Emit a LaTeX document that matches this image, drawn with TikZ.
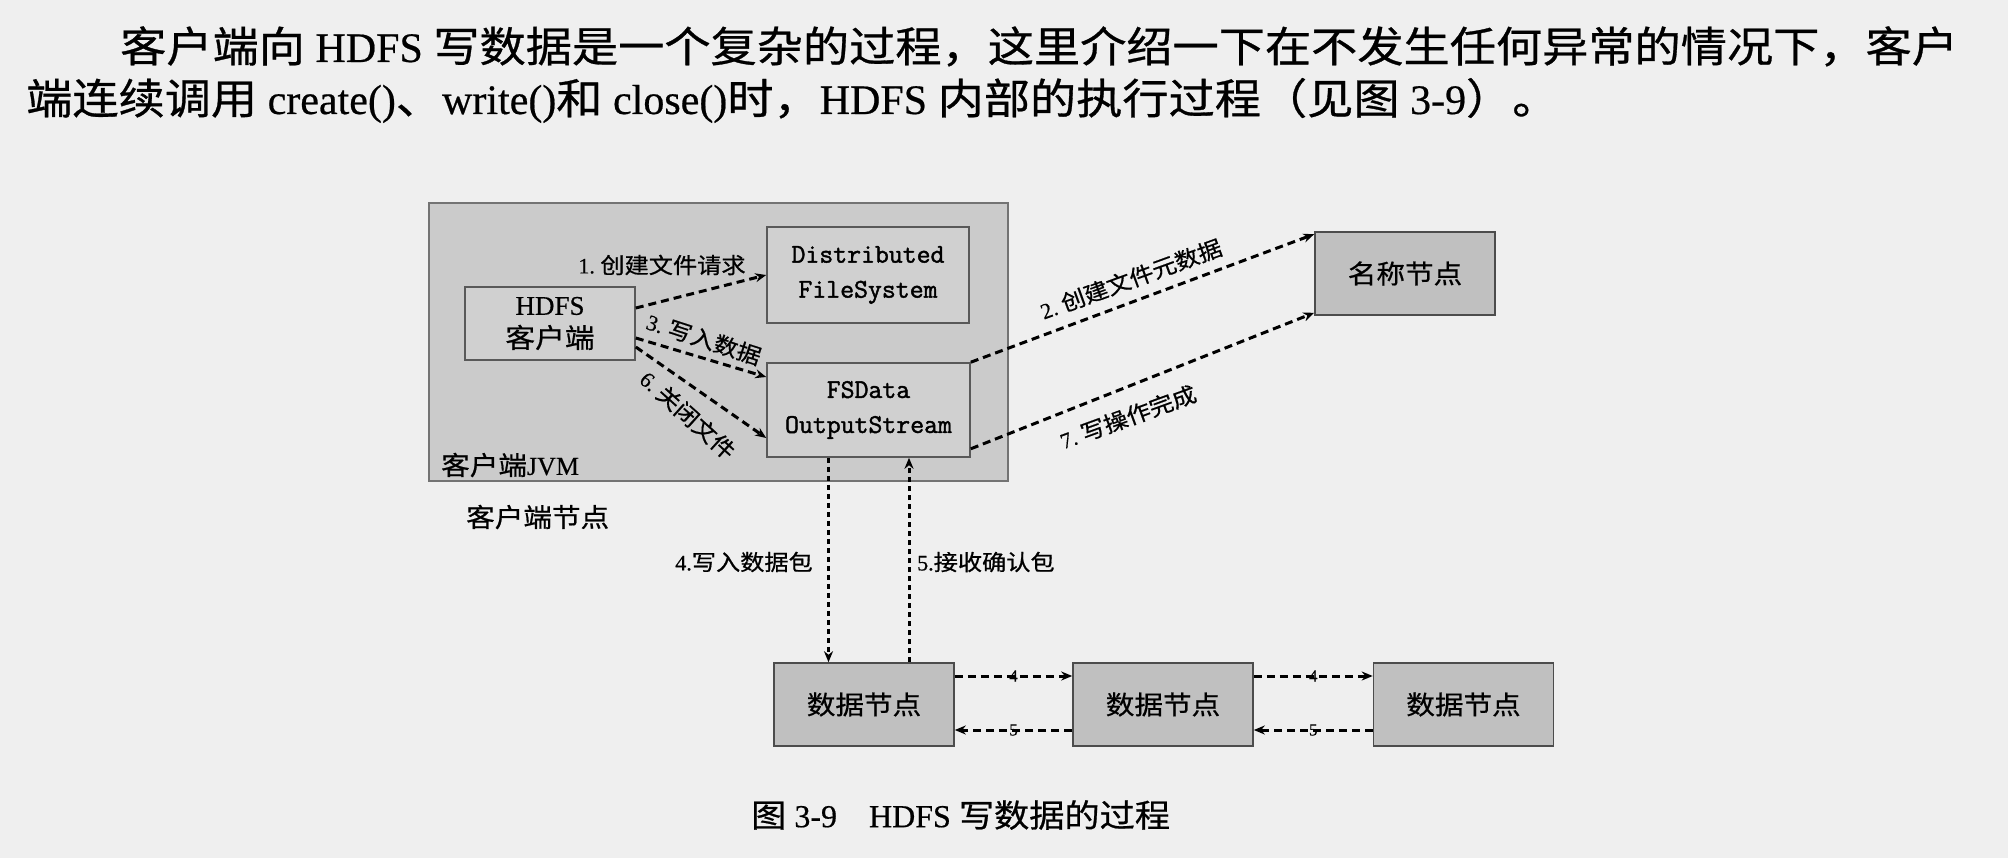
\documentclass[tikz,border=0pt]{standalone}
\usepackage{fontspec}
\setmainfont{Liberation Serif}
\newfontfamily\cjk[FakeStretch=1.1,FakeBold=0.7]{Noto Sans CJK SC}
\newfontfamily\latfont[FakeBold=0.5]{Liberation Serif}
\newfontfamily\monofont[FakeBold=1.6]{Latin Modern Mono}
\newcommand\en[1]{{\latfont #1}}
\usetikzlibrary{arrows.meta}
\definecolor{paper}{HTML}{EFEFEF}
\definecolor{jvmgray}{HTML}{CBCBCB}
\definecolor{boxgray}{HTML}{D0D0D0}
\definecolor{nodegray}{HTML}{C0C0C0}
\begin{document}
\begin{tikzpicture}[x=1pt,y=-1pt,
  every node/.style={inner sep=0pt},
  frame/.style={draw=black!55, line width=1.6pt, fill=jvmgray},
  inbox/.style={draw=black!65, line width=1.6pt, fill=boxgray},
  gbox/.style={draw=black!70, line width=1.6pt, fill=nodegray,
    minimum width=180pt, minimum height=83pt, font=\cjk\fontsize{26}{30}\selectfont},
  tip/.style={-{Stealth[length=11pt,width=9pt]}},
  flow/.style={tip, line width=3pt, dash pattern=on 8pt off 5pt},
  vflow/.style={tip, line width=3pt, dash pattern=on 5pt off 4pt},
  lbl/.style={font=\cjk\fontsize{22}{26}\selectfont},
  num/.style={font=\latfont\fontsize{17}{20}\selectfont},
  bodytext/.style={anchor=base west, font=\cjk\fontsize{42}{50}\selectfont},
]
\useasboundingbox (0,0) rectangle (2008,858);
\fill[paper] (0,0) rectangle (2008,858);

% paragraph above the figure
\node[bodytext] (para1) at (120,62)
  {客户端向\en{ HDFS }写数据是一个复杂的过程，这里介绍一下在不发生任何异常的情况下，客户};
\node[bodytext] (para2) at (26,114)
  {端连续调用\en{ create()}、\en{write()}和\en{ close()}时，\en{HDFS }内部的执行过程（见图\en{ 3-9}）。};

% client JVM and the objects inside it
\node[frame, minimum width=579pt, minimum height=278pt] (jvm) at (718.5,342) {};
\node[inbox, minimum width=170pt, minimum height=73pt, align=center,
  font=\fontsize{27}{33}\selectfont] (client) at (550,323.5)
  {\en{HDFS}\\\cjk 客户端};
\node[inbox, minimum width=202pt, minimum height=96pt, align=center,
  font=\monofont\fontsize{27}{35}\selectfont] (dfs) at (868,275)
  {Distributed\\FileSystem};
\node[inbox, minimum width=203pt, minimum height=94pt, align=center,
  font=\monofont\fontsize{27}{35}\selectfont] (fsout) at (868.5,410)
  {FSData\\OutputStream};
\node[anchor=west, font=\cjk\fontsize{26}{30}\selectfont] (jvmlabel) at (441,465)
  {客户端\en{JVM}};
\node[anchor=west, font=\cjk\fontsize{26}{30}\selectfont] (hostlabel) at (466,517)
  {客户端节点};

% name node and data nodes
\node[gbox] (name) at (1405,273.5) {名称节点};
\node[gbox] (dn1) at (864,704.5) {数据节点};
\node[gbox] (dn2) at (1163,704.5) {数据节点};
\node[gbox] (dn3) at (1463.5,704.5) {数据节点};

% calls inside the client
\draw[flow] ([yshift=15.5pt]client.east) -- (dfs.west);
\draw[flow] ([yshift=-14.5pt]client.east) -- ([yshift=33pt]fsout.west);
\draw[flow] ([yshift=-23.5pt]client.east) -- ([yshift=-28pt]fsout.west);
\node[lbl] (l1) at (662,265) {\en{1.\ }创建文件请求};
\node[lbl, rotate=-18] (l3) at (704,339) {\en{3.\ }写入数据};
\node[lbl, rotate=-42] (l6) at (688,415) {\en{6.\ }关闭文件};

% talks with the name node
\draw[flow] (fsout.north east) -- ([yshift=-3pt]name.north west);
\draw[flow] ([yshift=9pt]fsout.south east) -- ([yshift=3pt]name.south west);
\node[lbl, rotate=20] (l2) at (1131,279) {\en{2.\ }创建文件元数据};
\node[lbl, rotate=20] (l7) at (1128,417) {\en{7.\ }写操作完成};

% packets to the first data node and acks back
\draw[vflow] ([xshift=-40pt]fsout.south) -- ([xshift=-40pt]fsout.south |- dn1.north);
\draw[vflow] ([xshift=40.5pt]fsout.south |- dn1.north) -- ([xshift=40.5pt]fsout.south);
\node[lbl, anchor=east] (l4) at (813,562) {\en{4.}写入数据包};
\node[lbl, anchor=west] (l5) at (917,562) {\en{5.}接收确认包};

% pipeline between data nodes
\draw[flow] ([yshift=28.5pt]dn1.east) -- node[num]{4} ([yshift=28.5pt]dn2.west);
\draw[flow] ([yshift=-25.5pt]dn2.west) -- node[num]{5} ([yshift=-25.5pt]dn1.east);
\draw[flow] ([yshift=28.5pt]dn2.east) -- node[num]{4} ([yshift=28.5pt]dn3.west);
\draw[flow] ([yshift=-25.5pt]dn3.west) -- node[num]{5} ([yshift=-25.5pt]dn2.east);

% caption
\node[anchor=west, font=\cjk\fontsize{32}{36}\selectfont] (caption) at (751,815)
  {图\en{ 3-9\quad HDFS }写数据的过程};
\end{tikzpicture}
\end{document}
